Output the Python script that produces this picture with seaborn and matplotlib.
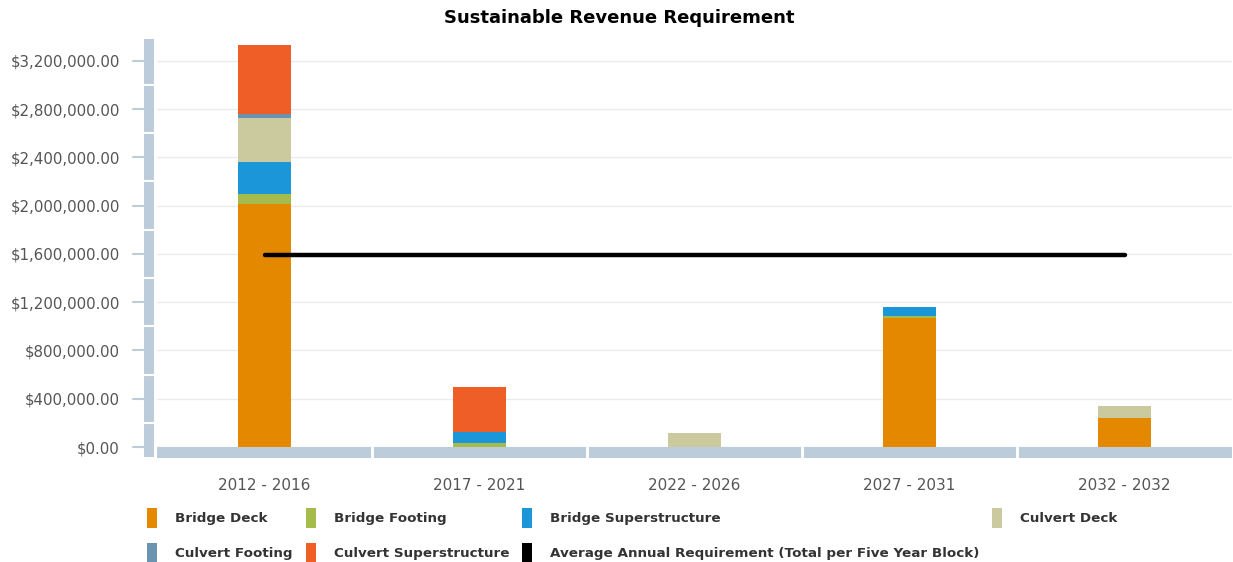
import matplotlib
matplotlib.use("Agg")
import matplotlib.pyplot as plt
import matplotlib.patches as mpatches
import matplotlib.lines as mlines
from matplotlib.transforms import blended_transform_factory
import seaborn as sns

# ---------------- data ----------------
categories = ["2012 - 2016", "2017 - 2021", "2022 - 2026", "2027 - 2031", "2032 - 2032"]
bridge_deck = [2010000, 0, 0, 1067000, 240000]
bridge_footing = [90000, 30000, 0, 22000, 0]
bridge_superstructure = [265000, 92000, 0, 70000, 0]
culvert_deck = [362000, 0, 115000, 0, 102000]
culvert_footing = [35000, 0, 0, 0, 0]
culvert_superstructure = [572000, 373000, 0, 0, 0]
average_requirement = [1590000, 1590000, 1590000, 1590000, 1590000]

series_names = ["Bridge Deck", "Bridge Footing", "Bridge Superstructure",
                "Culvert Deck", "Culvert Footing", "Culvert Superstructure"]
series_values = [bridge_deck, bridge_footing, bridge_superstructure,
                 culvert_deck, culvert_footing, culvert_superstructure]
series_colors = ["#E48800", "#A5BB4C", "#1B96D8", "#CBC99E", "#6A93AF", "#F05E28"]
avg_name = "Average Annual Requirement (Total per Five Year Block)"

yticks = [0, 400000, 800000, 1200000, 1600000, 2000000, 2400000, 2800000, 3200000]
ytick_labels = ["${:,.2f}".format(v) for v in yticks]

# ---------------- figure ----------------
W, H = 1233, 562
DPI = 100
PX = 72 / DPI  # points per pixel
sns.set_theme(style="white")
plt.rcParams["font.family"] = ["DejaVu Sans"]

fig = plt.figure(figsize=(W / DPI, H / DPI), dpi=DPI)
ax_left, ax_right, ax_top, ax_bottom = 157, 1232, 39, 447
ax = fig.add_axes([ax_left / W, 1 - ax_bottom / H,
                   (ax_right - ax_left) / W, (ax_bottom - ax_top) / H])

bottom = [0] * len(categories)
for name, vals, col in zip(series_names, series_values, series_colors):
    sns.barplot(x=categories, y=vals, bottom=bottom, color=col, saturation=1, width=0.25,
                ax=ax, linewidth=0, zorder=3, label=name)
    bottom = [b + v for b, v in zip(bottom, vals)]

sns.lineplot(x=list(range(len(categories))), y=average_requirement, ax=ax,
             color="black", linewidth=3.2, zorder=4, solid_capstyle="round")

ax.set_xlim(-0.5, len(categories) - 0.5)
ax.set_ylim(0, 3380000)
ax.set_yticks(yticks)
ax.set_yticklabels(ytick_labels)
ax.set_xticks(range(len(categories)))
ax.set_xticklabels(categories)
ax.tick_params(axis="y", length=0, pad=37 * PX, labelsize=10.8, labelcolor="#555555")
ax.tick_params(axis="x", length=0, pad=31 * PX, labelsize=11, labelcolor="#555555")
for s in ax.spines.values():
    s.set_visible(False)
ax.grid(axis="y", color="#EBEBEB", linewidth=1, zorder=0)
ax.grid(axis="x", visible=False)
ax.set_xlabel("")
ax.set_ylabel("")

axis_col = "#BCCCDA"
# vertical axis bar (figure x, data y)
tr_v = blended_transform_factory(fig.transFigure, ax.transData)
ax.add_patch(mpatches.Rectangle((144 / W, -10 / 408 * 3380000), 10 / W, 3380000 * (1 + 10 / 408),
                                transform=tr_v, facecolor=axis_col, edgecolor="none",
                                clip_on=False, zorder=5))
for g in range(200000, 3200000, 400000):
    ax.add_line(mlines.Line2D([144 / W, 154 / W], [g, g], transform=tr_v, color="white",
                              linewidth=1.5, clip_on=False, zorder=6))
# y tick marks
for t in yticks:
    ax.add_line(mlines.Line2D([133 / W, 144 / W], [t, t], transform=tr_v, color=axis_col,
                              linewidth=1.5, clip_on=False, zorder=5))
# horizontal axis bar (data x, figure y)
tr_h = blended_transform_factory(ax.transData, fig.transFigure)
ax.add_patch(mpatches.Rectangle((-0.5, 1 - 458 / H), len(categories), 11 / H,
                                transform=tr_h, facecolor=axis_col, edgecolor="none",
                                clip_on=False, zorder=5))
for b in range(len(categories) - 1):
    ax.add_line(mlines.Line2D([b + 0.5, b + 0.5], [1 - 458 / H, 1 - 447 / H], transform=tr_h,
                              color="white", linewidth=2, clip_on=False, zorder=6))

fig.text(619 / W, 1 - 18 / H, "Sustainable Revenue Requirement", ha="center", va="center",
         fontsize=13, fontweight="bold", color="black")

# legend
LFS = 9.7
em = LFS / PX  # pixels per em
hh = (20 / em - 0.245) / 0.65
handles = {n: mpatches.Patch(facecolor=c, edgecolor="none") for n, c in zip(series_names, series_colors)}
handles[avg_name] = mpatches.Patch(facecolor="black", edgecolor="none")
order = ["Bridge Deck", "Culvert Footing", "Bridge Footing", "Culvert Superstructure",
         "Bridge Superstructure", avg_name, "Culvert Deck"]
leg = fig.legend([handles[o] for o in order], order, ncol=4, loc="upper left",
                 bbox_to_anchor=(147 / W, 1 - 508 / H), frameon=False,
                 prop={"size": LFS, "weight": "bold"}, handlelength=10 / em,
                 handleheight=hh, handletextpad=18 / em, columnspacing=13 / em,
                 labelspacing=14.5 / em, borderpad=0, borderaxespad=0)
for t in leg.get_texts():
    t.set_color("#333333")
if ax.get_legend() is not None:
    ax.get_legend().remove()

fig.savefig("out.png", dpi=DPI)
